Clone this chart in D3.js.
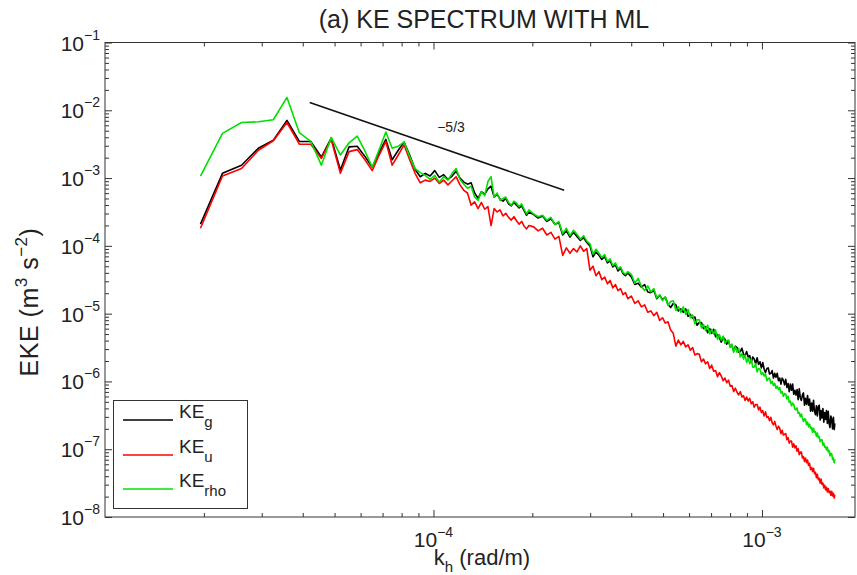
<!DOCTYPE html>
<html>
<head>
<meta charset="utf-8">
<script src="https://cdn.jsdelivr.net/npm/d3@7"></script>
<style>
body { margin: 0; background: #fff; }
text { font-family: "Liberation Sans", Arial, sans-serif; fill: #222; }
</style>
</head>
<body>
<svg id="chart" width="857" height="575"></svg>
<script>
// wavenumber index n, k = n * dk (rad/m)
const dk = 3.255e-6;
const kIndex = [
  6,7,8,9,10,11,12,13,14,15, 16,17,18,19,20,21,22,23,24,25,
  26,27,28,29,30,31,32,33,34,35, 36,37,38,39,40,41,42,43,44,45,
  46,47,48,49,50,51,52,53,54,55, 56,57,58,59,60,
  62,64,66,68,70,72,74,76,78,80, 82,84,86,88,90,92,94,96,98,100,
  102,104,106,108,110,112,114,116,118,120,
  123,126,129,132,135,138,141,144,147,150,
  153,156,159,162,165,168,171,174,177,180,
  183,186,189,192,195,198,201,204,207,210,
  213,216,219,222,225,228,231,234,237,240,
  243,246,249,252,255,258,261,264,267,270,
  273,276,279,282,285,288,291,294,297,300,
  303,306,309,312,315,318,321,324,327,330,
  333,336,339,342,345,348,351,354,357,360,
  363,366,369,372,375,378,381,384,387,390,
  393,396,399,402,405,408,411,414,417,420,
  423,426,429,432,435,438,441,444,447,450,
  453,456,459,462,465,468,471,474,477,480,
  483,486,489,492,495,498,501,504,507,510,
  512
];

// log10 of EKE (m^3 s^-2)
const logKEg = [
  -3.68,-2.93,-2.81,-2.56,-2.44,-2.15,-2.46,-2.46,-2.69,-2.41, -2.88,-2.54,-2.53,-2.68,-2.84,-2.62,-2.43,-2.73,-2.59,-2.47,
  -2.66,-2.87,-2.98,-2.93,-2.97,-2.89,-2.99,-2.95,-3.02,-2.97, -2.90,-3.00,-3.06,-3.09,-3.07,-3.22,-3.30,-3.20,-3.24,-3.16,
  -3.12,-3.28,-3.24,-3.31,-3.34,-3.30,-3.38,-3.41,-3.36,-3.40, -3.44,-3.41,-3.48,-3.55,-3.50,
  -3.54,-3.59,-3.56,-3.64,-3.60,-3.68,-3.66,-3.84,-3.78,-3.87, -3.80,-3.86,-3.92,-3.88,-3.95,-4.00,-4.16,-4.09,-4.14,-4.20,
  -4.16,-4.25,-4.22,-4.31,-4.28,-4.37,-4.33,-4.41,-4.44,-4.40,
  -4.46,-4.57,-4.55,-4.61,-4.57,-4.68,-4.69,-4.66,-4.78,-4.73,
  -4.79,-4.76,-4.86,-4.91,-4.85,-4.87,-4.96,-4.93,-4.98,-4.93,
  -5.04,-5.01,-5.07,-5.05,-5.17,-5.13,-5.13,-5.22,-5.19,-5.28,
  -5.22,-5.29,-5.23,-5.34,-5.31,-5.35,-5.42,-5.35,-5.38,-5.45,
  -5.40,-5.49,-5.47,-5.55,-5.48,-5.50,-5.57,-5.56,-5.51,-5.60,
  -5.62,-5.56,-5.64,-5.62,-5.72,-5.64,-5.67,-5.74,-5.65,-5.75,
  -5.71,-5.80,-5.72,-5.82,-5.87,-5.81,-5.80,-5.89,-5.88,-5.84,
  -5.95,-5.88,-5.94,-5.88,-5.99,-5.95,-6.04,-5.95,-5.98,-6.05,
  -5.97,-6.09,-6.03,-6.15,-6.04,-6.13,-6.04,-6.19,-6.13,-6.20,
  -6.12,-6.27,-6.11,-6.24,-6.28,-6.20,-6.17,-6.35,-6.25,-6.34,
  -6.21,-6.35,-6.26,-6.44,-6.32,-6.44,-6.28,-6.44,-6.49,-6.36,
  -6.51,-6.37,-6.35,-6.57,-6.43,-6.54,-6.40,-6.60,-6.46,-6.56,
  -6.43,-6.62,-6.44,-6.62,-6.68,-6.51,-6.56,-6.70,-6.53,-6.71,
  -6.62
];

const logKEu = [
  -3.74,-2.97,-2.86,-2.59,-2.45,-2.18,-2.50,-2.50,-2.71,-2.43, -2.93,-2.61,-2.58,-2.73,-2.89,-2.66,-2.46,-2.81,-2.66,-2.51,
  -2.73,-2.93,-3.07,-3.03,-3.05,-3.00,-3.08,-3.03,-3.10,-3.04, -2.98,-3.10,-3.18,-3.22,-3.40,-3.35,-3.45,-3.36,-3.46,-3.42,
  -3.70,-3.45,-3.50,-3.47,-3.56,-3.52,-3.58,-3.62,-3.57,-3.63, -3.68,-3.64,-3.71,-3.75,-3.70,
  -3.72,-3.78,-3.74,-3.84,-3.80,-3.90,-3.86,-4.14,-4.03,-4.11, -4.04,-4.09,-4.00,-4.08,-4.04,-4.36,-4.30,-4.44,-4.38,-4.50,
  -4.46,-4.56,-4.51,-4.62,-4.57,-4.66,-4.63,-4.72,-4.69,-4.78,
  -4.74,-4.85,-4.81,-4.90,-4.87,-4.98,-4.96,-5.03,-4.98,-5.10,
  -5.06,-5.14,-5.12,-5.24,-5.29,-5.48,-5.39,-5.46,-5.41,-5.49,
  -5.46,-5.54,-5.50,-5.61,-5.59,-5.60,-5.71,-5.67,-5.74,-5.71,
  -5.81,-5.76,-5.85,-5.84,-5.93,-5.87,-5.92,-5.99,-5.95,-6.02,
  -5.98,-6.07,-6.06,-6.15,-6.10,-6.16,-6.20,-6.15,-6.23,-6.21,
  -6.28,-6.23,-6.29,-6.25,-6.33,-6.30,-6.38,-6.34,-6.34,-6.42,
  -6.38,-6.46,-6.43,-6.51,-6.45,-6.53,-6.52,-6.58,-6.53,-6.61,
  -6.64,-6.59,-6.66,-6.71,-6.66,-6.69,-6.77,-6.72,-6.79,-6.78,
  -6.77,-6.86,-6.83,-6.91,-6.88,-6.88,-6.97,-6.92,-6.98,-6.95,
  -7.03,-6.99,-7.08,-7.04,-7.04,-7.13,-7.11,-7.18,-7.13,-7.20,
  -7.16,-7.24,-7.21,-7.30,-7.27,-7.33,-7.28,-7.36,-7.34,-7.42,
  -7.37,-7.45,-7.43,-7.50,-7.44,-7.52,-7.50,-7.57,-7.53,-7.60,
  -7.56,-7.63,-7.58,-7.64,-7.62,-7.68,-7.62,-7.69,-7.65,-7.72,
  -7.67
];

const logKErho = [
  -2.97,-2.34,-2.18,-2.17,-2.14,-1.81,-2.33,-2.46,-2.81,-2.40, -2.66,-2.48,-2.38,-2.60,-2.84,-2.58,-2.32,-2.56,-2.53,-2.47,
  -2.68,-2.86,-2.92,-2.96,-3.02,-2.96,-3.06,-2.98,-3.03,-2.93, -2.86,-3.02,-3.09,-3.15,-3.12,-3.28,-3.33,-3.20,-3.26,-3.05,
  -2.98,-3.28,-3.22,-3.33,-3.30,-3.28,-3.36,-3.40,-3.34,-3.37, -3.42,-3.38,-3.46,-3.53,-3.47,
  -3.53,-3.57,-3.55,-3.62,-3.58,-3.69,-3.64,-3.82,-3.74,-3.85, -3.77,-3.83,-3.90,-3.85,-3.93,-3.97,-4.12,-4.05,-4.11,-4.17,
  -4.13,-4.23,-4.19,-4.29,-4.25,-4.34,-4.31,-4.39,-4.42,-4.38,
  -4.42,-4.55,-4.48,-4.60,-4.66,-4.59,-4.68,-4.63,-4.77,-4.72,
  -4.81,-4.75,-4.88,-4.82,-4.81,-4.95,-4.90,-4.98,-4.90,-5.01,
  -4.94,-5.06,-5.02,-5.15,-5.09,-5.09,-5.21,-5.16,-5.25,-5.17,
  -5.30,-5.23,-5.30,-5.24,-5.38,-5.31,-5.39,-5.33,-5.44,-5.40,
  -5.39,-5.50,-5.45,-5.57,-5.49,-5.57,-5.51,-5.64,-5.59,-5.67,
  -5.61,-5.72,-5.66,-5.74,-5.67,-5.79,-5.79,-5.74,-5.86,-5.81,
  -5.82,-5.90,-5.87,-5.92,-5.89,-5.99,-5.96,-5.95,-6.03,-6.00,
  -6.06,-6.03,-6.10,-6.07,-6.12,-6.09,-6.17,-6.15,-6.22,-6.18,
  -6.19,-6.26,-6.22,-6.31,-6.29,-6.36,-6.32,-6.34,-6.41,-6.42,
  -6.39,-6.47,-6.46,-6.52,-6.48,-6.54,-6.59,-6.55,-6.56,-6.64,
  -6.60,-6.67,-6.63,-6.69,-6.68,-6.75,-6.69,-6.75,-6.74,-6.81,
  -6.76,-6.83,-6.81,-6.89,-6.86,-6.86,-6.94,-6.91,-6.97,-6.96,
  -7.01,-6.97,-7.04,-7.02,-7.10,-7.06,-7.07,-7.15,-7.13,-7.20,
  -7.15
];

// -5/3 reference slope
const slopeK = [4.2e-5, 2.5e-4];
const slopeE = [1.3e-2, 6.6e-4];

const seriesNames = ["g", "u", "rho"];
const seriesColors = ["#000000", "#ff0000", "#00e000"];

const xMajor = [1e-4, 1e-3];
const xMinor = [2e-5,3e-5,4e-5,5e-5,6e-5,7e-5,8e-5,9e-5, 2e-4,3e-4,4e-4,5e-4,6e-4,7e-4,8e-4,9e-4];
const yExp = [-8, -7, -6, -5, -4, -3, -2, -1];

const mLeft = 105, mRight = 855, mTop = 42.5, mBottom = 517;
const svg = d3.select("#chart");

const x = d3.scaleLog().domain([1e-5, 1.92e-3]).range([mLeft, mRight]);
const y = d3.scaleLog().domain([1e-8, 1e-1]).range([mBottom, mTop]);

const yMajor = yExp.map(e => Math.pow(10, e));
let yMinor = [];
yExp.slice(0, -1).forEach(e => {
	for (let m = 2; m <= 9; m++) yMinor.push(m * Math.pow(10, e));
});

// ticks on all four sides, pointing inward
function ticks(axis, values, size, transform) {
	svg.append("g")
		.attr("transform", transform)
		.call(axis.tickValues(values).tickSizeInner(-size).tickSizeOuter(0).tickFormat(""))
		.call(g => g.select(".domain").remove())
		.selectAll("line").attr("stroke", "#333");
}
ticks(d3.axisBottom(x), xMajor, 7, "translate(0," + mBottom + ")");
ticks(d3.axisBottom(x), xMinor, 4, "translate(0," + mBottom + ")");
ticks(d3.axisTop(x), xMajor, 7, "translate(0," + mTop + ")");
ticks(d3.axisTop(x), xMinor, 4, "translate(0," + mTop + ")");
ticks(d3.axisLeft(y), yMajor, 7, "translate(" + mLeft + ",0)");
ticks(d3.axisLeft(y), yMinor, 4, "translate(" + mLeft + ",0)");
ticks(d3.axisRight(y), yMajor, 7, "translate(" + mRight + ",0)");
ticks(d3.axisRight(y), yMinor, 4, "translate(" + mRight + ",0)");

svg.append("rect")
	.attr("x", mLeft).attr("y", mTop)
	.attr("width", mRight - mLeft).attr("height", mBottom - mTop)
	.attr("fill", "none").attr("stroke", "#333").attr("stroke-width", 1);

// tick labels 10^n
xMajor.forEach(v => {
	let t = svg.append("text")
		.attr("x", x(v)).attr("y", mBottom + 30)
		.attr("text-anchor", "middle").style("font-size", "21px");
	t.append("tspan").text("10");
	t.append("tspan").attr("dy", -10).style("font-size", "14px").text("\u2212" + Math.round(-Math.log10(v)));
});
yExp.forEach(e => {
	let t = svg.append("text")
		.attr("x", 100).attr("y", y(Math.pow(10, e)) + 8)
		.attr("text-anchor", "end").style("font-size", "21px");
	t.append("tspan").text("10");
	t.append("tspan").attr("dy", -11).style("font-size", "14px").text("\u2212" + (-e));
});

// data lines
const line = d3.line()
	.x(d => x(d[0]))
	.y(d => y(d[1]));

[logKEg, logKEu, logKErho].forEach((vals, i) => {
	let pts = kIndex.map((n, j) => [n * dk, Math.pow(10, vals[j])]);
	svg.append("path")
		.datum(pts)
		.attr("d", line)
		.attr("fill", "none")
		.attr("stroke", seriesColors[i])
		.attr("stroke-width", 1.6)
		.attr("stroke-linejoin", "round");
});

// -5/3 slope line
svg.append("path")
	.datum(slopeK.map((k, i) => [k, slopeE[i]]))
	.attr("d", line)
	.attr("fill", "none")
	.attr("stroke", "#111")
	.attr("stroke-width", 1.5);

svg.append("text")
	.attr("x", 451).attr("y", 132)
	.attr("text-anchor", "middle")
	.style("font-size", "14px")
	.text("\u22125/3");

// title
svg.append("text")
	.attr("x", 484).attr("y", 28)
	.attr("text-anchor", "middle")
	.style("font-size", "25px")
	.text("(a) KE SPECTRUM WITH ML");

// x label
let xl = svg.append("text")
	.attr("x", 482).attr("y", 565)
	.attr("text-anchor", "middle")
	.style("font-size", "22px");
xl.append("tspan").text("k");
xl.append("tspan").attr("dy", 7).style("font-size", "15px").text("h");
xl.append("tspan").attr("dy", -7).text(" (rad/m)");

// y label
let yl = svg.append("text")
	.attr("transform", "translate(38,302)rotate(-90)")
	.attr("text-anchor", "middle")
	.style("font-size", "25px")
	.style("letter-spacing", "0.5px");
yl.append("tspan").text("EKE (m");
yl.append("tspan").attr("dy", -11).style("font-size", "17px").text("3");
yl.append("tspan").attr("dy", 11).text(" s");
yl.append("tspan").attr("dy", -11).style("font-size", "17px").text("\u22122");
yl.append("tspan").attr("dy", 11).text(")");

// legend
const legend = svg.append("g");
legend.append("rect")
	.attr("x", 113.5).attr("y", 400.5)
	.attr("width", 134).attr("height", 108)
	.attr("fill", "#fff").attr("stroke", "#333");
const legendY = [420, 455, 489];
seriesNames.forEach((s, i) => {
	legend.append("line")
		.attr("x1", 123).attr("x2", 173)
		.attr("y1", legendY[i]).attr("y2", legendY[i])
		.attr("stroke", seriesColors[i]).attr("stroke-width", 1.5);
	let t = legend.append("text")
		.attr("x", 179).attr("y", legendY[i] - 2)
		.style("font-size", "19px");
	t.append("tspan").text("KE");
	t.append("tspan").attr("dy", 9).style("font-size", "15px").text(s);
});
</script>
</body>
</html>
